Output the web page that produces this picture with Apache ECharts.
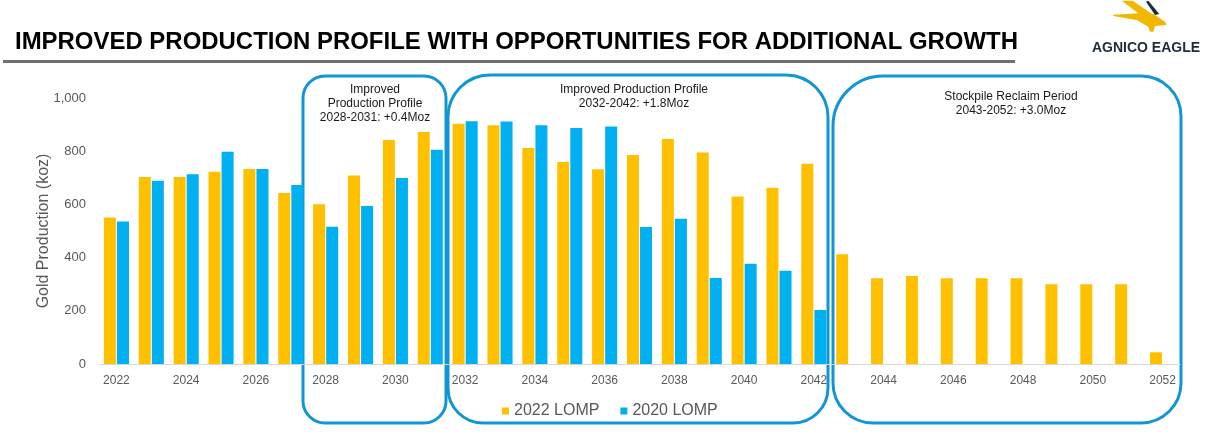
<!DOCTYPE html>
<html>
<head>
<meta charset="utf-8">
<script src="https://cdn.jsdelivr.net/npm/echarts@6/dist/echarts.min.js"></script>
<style>
html,body{margin:0;padding:0;background:#fff;}
#chart{width:1210px;height:446px;}
</style>
</head>
<body>
<div id="chart"></div>
<script>
// ---- data ----
var years = ['2022','2023','2024','2025','2026','2027','2028','2029','2030','2031','2032','2033','2034','2035','2036','2037','2038','2039','2040','2041','2042','2043','2044','2045','2046','2047','2048','2049','2050','2051','2052'];
var lomp2022 = [551,703,703,723,733,643,601,709,842,872,903,898,812,759,732,786,846,795,630,663,753,413,322,331,322,322,322,300,300,300,44];
var lomp2020 = [536,689,713,798,733,673,516,594,699,805,913,912,898,887,893,515,546,323,377,351,203,null,null,null,null,null,null,null,null,null,null];
var seriesNames = ['2022 LOMP','2020 LOMP'];
var yTicks = [0,200,400,600,800,1000];
var titleText = 'IMPROVED PRODUCTION PROFILE WITH OPPORTUNITIES FOR ADDITIONAL GROWTH';
var box1Text = 'Improved\nProduction Profile\n2028-2031: +0.4Moz';
var box2Text = 'Improved Production Profile\n2032-2042: +1.8Moz';
var box3Text = 'Stockpile Reclaim Period\n2043-2052: +3.0Moz';

var ORANGE = '#FFC000', BLUE = '#00B0F0', BOX = '#1196D5', GREY = '#595959';

// measure title to fit target width
var cv = document.createElement('canvas').getContext('2d');
cv.font = 'bold 24px "Liberation Sans"';
var tw = cv.measureText(titleText).width;
var titleScale = 1003 / tw;

var chart = echarts.init(document.getElementById('chart'), null, {renderer:'canvas'});
var option = {
  animation:false,
  backgroundColor:'#fff',
  textStyle:{fontFamily:'"Liberation Sans", Arial, sans-serif'},
  grid:{left:99, right:30, top:98, bottom:82},
  legend:{
    data:seriesNames, left:497, top:398, icon:'rect', itemWidth:7, itemHeight:7,
    itemGap:21, textStyle:{fontSize:16, color:GREY, fontFamily:'"Liberation Sans", Arial, sans-serif'}
  },
  xAxis:{
    type:'category', data:years,
    axisLine:{lineStyle:{color:'#d9d9d9', width:1}},
    axisTick:{show:false},
    axisLabel:{interval:1, fontSize:12, color:GREY, margin:11}
  },
  yAxis:{
    type:'value', min:yTicks[0], max:yTicks[yTicks.length-1], interval:200,
    name:'Gold Production (koz)', nameLocation:'middle', nameGap:47, nameMoveOverlap:false,
    nameTextStyle:{fontSize:16, color:GREY},
    axisLine:{show:false}, axisTick:{show:false}, splitLine:{show:false},
    axisLabel:{fontSize:13, color:GREY, margin:13, formatter:function(v){return v.toLocaleString('en-US');}}
  },
  series:[
    {name:seriesNames[0], type:'bar', data:lomp2022, barWidth:12, barGap:'9%', itemStyle:{color:ORANGE}},
    {name:seriesNames[1], type:'bar', data:lomp2020, barWidth:12, itemStyle:{color:BLUE}}
  ],
  graphic:[
    {type:'text', left:15, top:30, style:{text:titleText, font:'bold 24px "Liberation Sans"', fill:'#000'}, scaleX:titleScale, originX:0},
    {type:'rect', shape:{x:3, y:60, width:1012, height:3}, style:{fill:'#707070'}},
    // logo
    {type:'polygon', shape:{points:[[1121.7,0.7],[1132.7,0.7],[1150,12.7],[1155,15],[1165,21.7],[1166.7,25],[1155,26],[1153.3,31.7],[1150,31.7],[1148.3,26.7],[1136.7,20],[1113.3,16],[1113.3,14.7],[1138.3,13.3]]}, style:{fill:'#F2B700'}},
    {type:'polygon', shape:{points:[[1146,1.7],[1148.3,0.7],[1159.3,14],[1155,15]]}, style:{fill:'#1F2A3A'}},
    {type:'text', x:1146, y:48, style:{text:'AGNICO EAGLE', font:'bold 14px "Liberation Sans"', fill:'#1F2A3A', textAlign:'center', textVerticalAlign:'middle'}},
    // boxes
    {type:'rect', shape:{x:303, y:76, width:143, height:347, r:22}, style:{fill:'none', stroke:BOX, lineWidth:3}},
    {type:'rect', shape:{x:448, y:75, width:380, height:348, r:[42,42,35,35]}, style:{fill:'none', stroke:BOX, lineWidth:3}},
    {type:'rect', shape:{x:833, y:76, width:348, height:347, r:[50,40,40,40]}, style:{fill:'none', stroke:BOX, lineWidth:3}},
    {type:'text', x:375, y:83, style:{text:box1Text, font:'12px "Liberation Sans"', fill:'#1a1a1a', textAlign:'center', lineHeight:14}},
    {type:'text', x:634, y:83, style:{text:box2Text, font:'12px "Liberation Sans"', fill:'#1a1a1a', textAlign:'center', lineHeight:14}},
    {type:'text', x:1011, y:90, style:{text:box3Text, font:'12px "Liberation Sans"', fill:'#1a1a1a', textAlign:'center', lineHeight:14}}
  ]
};
chart.setOption(option);
</script>
</body>
</html>
